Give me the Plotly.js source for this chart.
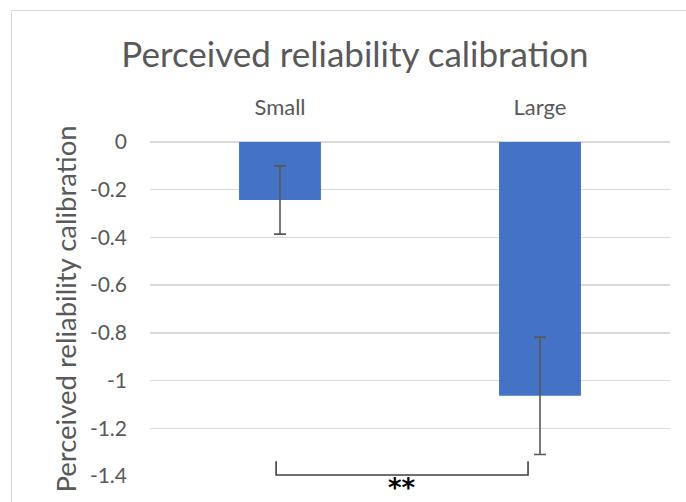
<!DOCTYPE html>
<html>
<head>
<meta charset="utf-8">
<script src="https://cdn.plot.ly/plotly-3.0.1.min.js"></script>
<style>
  html, body { margin: 0; padding: 0; background: #ffffff; overflow: hidden; }
  #wrap { position: relative; width: 686px; height: 502px; overflow: hidden; }
  #frame { position: absolute; left: 11px; top: 10px; width: 700px; height: 520px;
           border: 1px solid #d9d9d9; box-sizing: border-box; }
  #chart { position: absolute; left: 0; top: 0; width: 686px; height: 502px; }
</style>
</head>
<body>
<div id="wrap">
  <div id="frame"></div>
  <div id="chart"></div>
</div>
<script>
// Mean perceived reliability calibration per group, with error bar half-lengths
const categories = ["Small", "Large"];
const meanValues = [-0.243, -1.064];
const errorValues = [0.143, 0.246];
const yTickValues = [0, -0.2, -0.4, -0.6, -0.8, -1, -1.2, -1.4];
const yTickLabels = ["0", "-0.2", "-0.4", "-0.6", "-0.8", "-1", "-1.2", "-1.4"];
const significanceLabel = "**";

const textGrey = "#595959";
const fontFamily = "Lato, 'Open Sans', sans-serif";

const trace = {
  type: "bar",
  x: categories,
  y: meanValues,
  width: 0.315,
  marker: { color: "#4472C4", line: { width: 0 } },
  error_y: {
    type: "data",
    array: errorValues,
    visible: true,
    color: "#595959",
    thickness: 1.6,
    width: 6
  },
  hoverinfo: "skip"
};

// Significance bracket spanning the two groups, just above the bottom gridline
const bracketLeft = -0.015, bracketRight = 0.954;
const bracketBase = -1.396, bracketTip = -1.338;

const layout = {
  width: 686,
  height: 502,
  margin: { l: 150, r: 16, t: 142, b: 26 },
  paper_bgcolor: "rgba(0,0,0,0)",
  plot_bgcolor: "rgba(0,0,0,0)",
  showlegend: false,
  font: { family: fontFamily, color: textGrey },
  title: {
    text: "Perceived reliability calibration",
    font: { family: fontFamily, size: 35, color: textGrey },
    x: 355 / 686,
    xanchor: "center",
    xref: "container",
    y: 1 - 55 / 502,
    yanchor: "middle",
    yref: "container"
  },
  xaxis: {
    type: "category",
    side: "top",
    range: [-0.5, 1.5],
    showgrid: false,
    showline: false,
    zeroline: false,
    ticks: "",
    ticklabelstandoff: 22,
    tickfont: { family: fontFamily, size: 22, color: textGrey },
    fixedrange: true
  },
  yaxis: {
    range: [-1.4, 0],
    tickmode: "array",
    tickvals: yTickValues,
    ticktext: yTickLabels,
    showgrid: true,
    gridcolor: "#d9d9d9",
    gridwidth: 1.5,
    zeroline: true,
    zerolinecolor: "#d9d9d9",
    zerolinewidth: 1.5,
    showline: false,
    ticks: "",
    ticklabelstandoff: 22,
    tickfont: { family: fontFamily, size: 21, color: textGrey },
    title: {
      text: "Perceived reliability calibration",
      font: { family: fontFamily, size: 27.5, color: textGrey },
      standoff: 5
    },
    fixedrange: true
  },
  shapes: [
    {
      type: "path",
      xref: "x",
      yref: "y",
      path: "M " + bracketLeft + "," + bracketTip +
            " L " + bracketLeft + "," + bracketBase +
            " L " + bracketRight + "," + bracketBase +
            " L " + bracketRight + "," + bracketTip,
      line: { color: "#404040", width: 1.6 }
    }
  ],
  annotations: [
    {
      text: significanceLabel,
      xref: "x",
      yref: "y",
      x: (bracketLeft + bracketRight) / 2,
      y: bracketBase,
      xanchor: "center",
      yanchor: "top",
      yshift: 4,
      height: 24,
      valign: "top",
      showarrow: false,
      font: { family: "'DejaVu Sans', sans-serif", size: 26, color: "#000000", weight: "bold" }
    }
  ]
};

Plotly.newPlot("chart", [trace], layout, { displayModeBar: false, staticPlot: true });
</script>
</body>
</html>
